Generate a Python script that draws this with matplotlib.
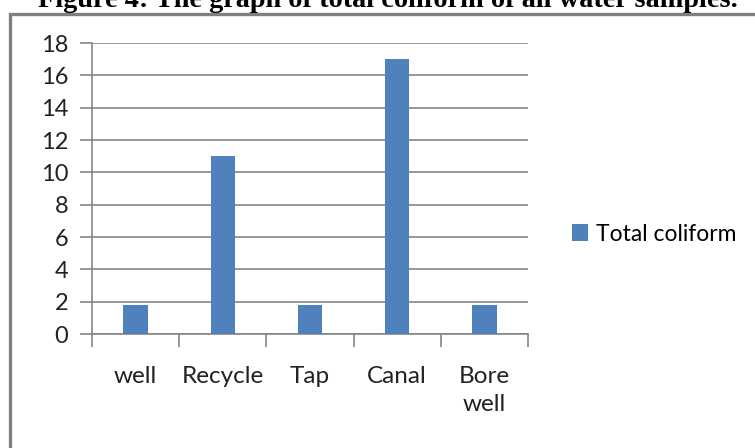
import matplotlib.pyplot as plt
from matplotlib.patches import Rectangle

# total coliform per water source
samples = ["well", "Recycle", "Tap", "Canal", "Bore\nwell"]
coliform = [1.8, 11, 1.8, 17, 1.8]
yticks = [0, 2, 4, 6, 8, 10, 12, 14, 16, 18]

W, H = 755, 448
fig = plt.figure(figsize=(W / 100, H / 100), dpi=100)
fig.patch.set_facecolor("white")

# chart frame, running off the right and bottom edges
fig.patches.append(Rectangle((10 / W, -0.1), 1.2, 1.1 - 14 / H,
                             transform=fig.transFigure, fill=False,
                             edgecolor="#7f7f7f", linewidth=2.4, zorder=0))

fig.text(38 / W, 1 - 7 / H, "Figure 4: The graph of total coliform of all water samples.",
         family="Liberation Serif", fontweight="bold", fontsize=20.3,
         ha="left", va="baseline")

ax = fig.add_axes([92 / W, 1 - 334 / H, (528 - 92) / W, (334 - 43) / H])
x = range(len(samples))
ax.bar(x, coliform, width=0.28, color="#4F81BD", zorder=3, label="Total coliform")

ax.set_ylim(0, 18)
ax.set_xlim(-0.5, len(samples) - 0.5)
ax.set_yticks(yticks)
ax.yaxis.grid(True, color="#868686", linewidth=1.2)
ax.set_axisbelow(True)

for s in ["top", "right"]:
    ax.spines[s].set_visible(False)
for s in ["left", "bottom"]:
    ax.spines[s].set_color("#868686")
    ax.spines[s].set_linewidth(1.2)

ax.tick_params(axis="y", length=9, width=1.2, color="#868686", labelsize=17, pad=8)
ax.set_yticklabels([str(t) for t in yticks], family="Lato", color="#222222")

# category ticks sit on the boundaries, labels in the middle
ax.set_xticks([i - 0.5 for i in range(len(samples) + 1)])
ax.set_xticklabels([])
ax.tick_params(axis="x", length=9, width=1.2, color="#868686")
for i, name in enumerate(samples):
    ax.text(i, -1.95, name, ha="center", va="top", fontsize=17.5, family="Lato",
            color="#222222", linespacing=1.45, transform=ax.transData, clip_on=False)

fig.legend(loc="center left", bbox_to_anchor=(572 / W, 1 - 234 / H), frameon=False,
           prop={"family": "Lato", "size": 16.5}, handlelength=0.7, handleheight=0.7,
           handletextpad=0.35, borderaxespad=0, borderpad=0)

fig.savefig("out.png", dpi=100)
